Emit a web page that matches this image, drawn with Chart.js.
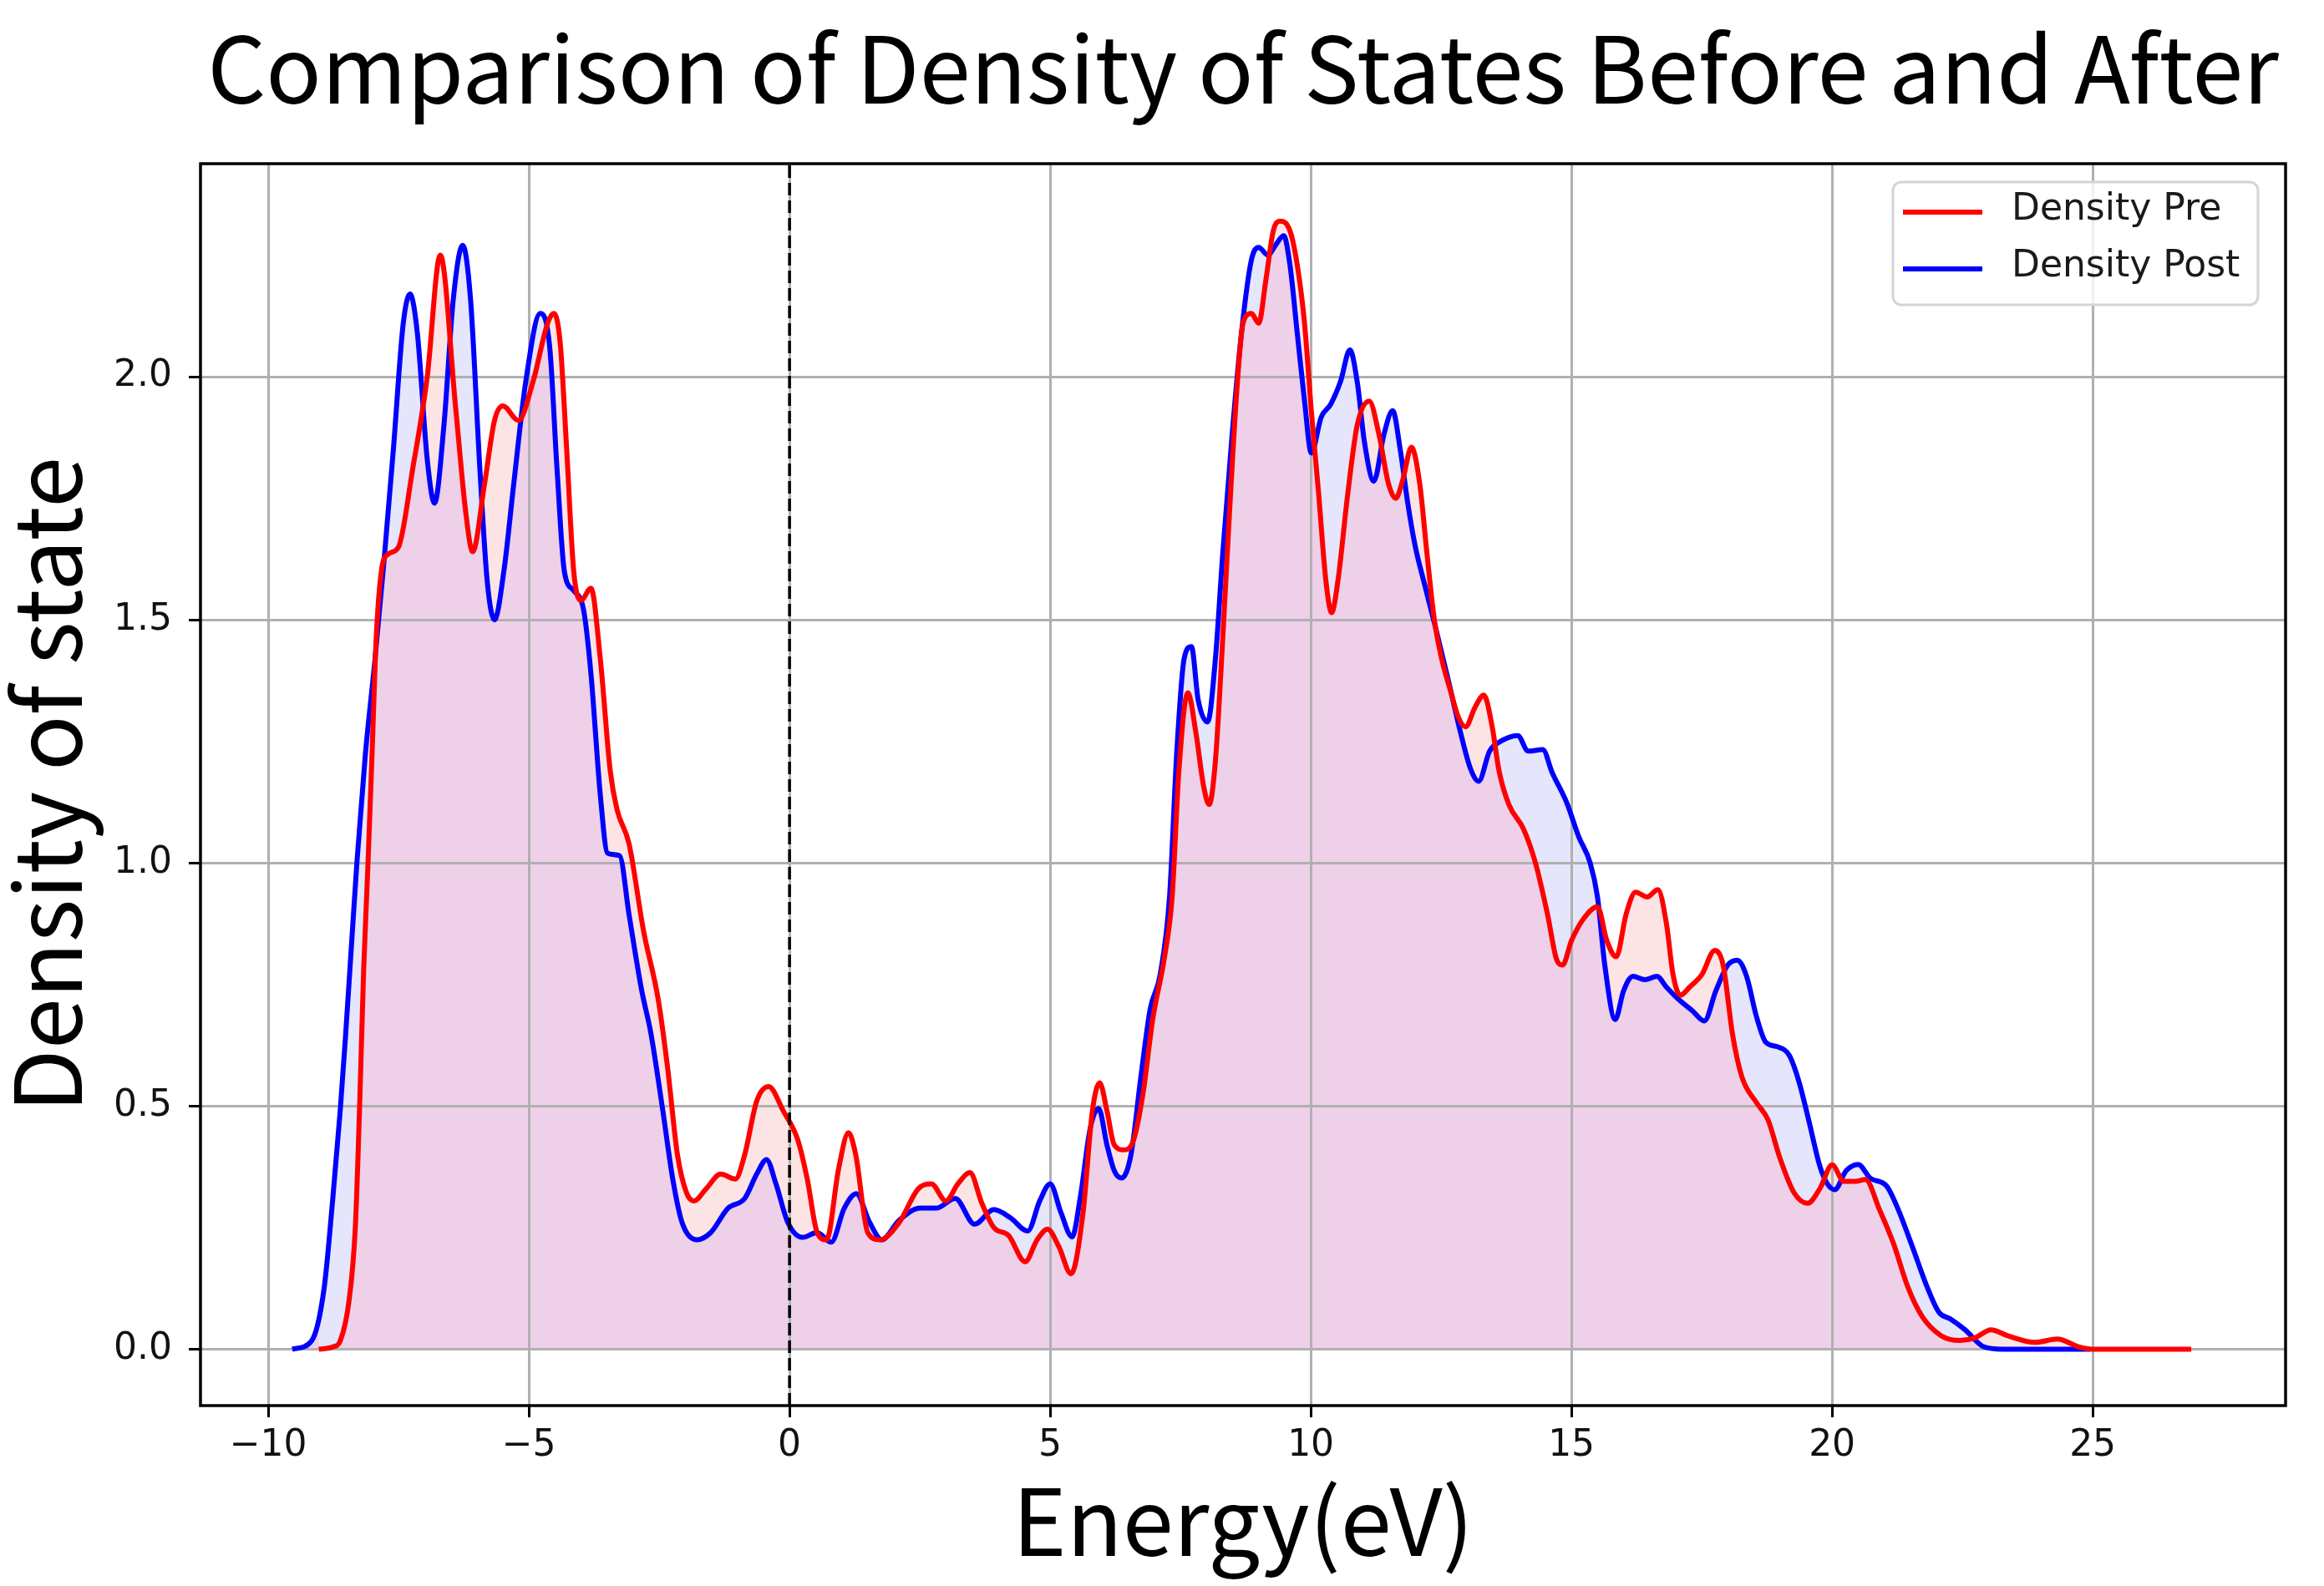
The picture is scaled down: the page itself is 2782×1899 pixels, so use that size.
<!DOCTYPE html>
<html><head><meta charset="utf-8">
<script src="https://cdn.jsdelivr.net/npm/chart.js@4.4.0/dist/chart.umd.min.js"></script>
<style>html,body{margin:0;padding:0;background:#fff;}#wrap{width:2782px;height:1899px;}</style>
</head><body>
<div id="wrap"><canvas id="c" width="2782" height="1899" style="width:2782px;height:1899px"></canvas></div>
<script>
const titleText = 'Comparison of Density of States Before and After';
const xAxisLabel = 'Energy(eV)';
const yAxisLabel = 'Density of state';
const seriesNames = ['Density Pre', 'Density Post'];
const xTickValues = [-10, -5, 0, 5, 10, 15, 20, 25];
const yTickValues = [0, 0.5, 1.0, 1.5, 2.0];
const fermiLevel = 0;

const preEnergy = [-9.03,-8.75,-8.62,-8.45,-8.33,-8.25,-8.17,-8.09,-8.01,-7.93,-7.83,-7.70,-7.50,-7.23,-6.95,-6.70,-6.40,-6.21,-6.08,-5.85,-5.66,-5.50,-5.20,-4.92,-4.64,-4.52,-4.40,-4.28,-4.14,-4.00,-3.81,-3.63,-3.44,-3.31,-3.08,-2.80,-2.52,-2.34,-2.15,-1.97,-1.83,-1.60,-1.32,-1.04,-0.86,-0.63,-0.40,-0.12,0.16,0.34,0.53,0.71,0.94,1.13,1.27,1.50,1.73,2.10,2.47,2.72,3.00,3.23,3.46,3.69,3.92,4.20,4.52,4.75,4.95,5.17,5.40,5.63,5.81,5.95,6.09,6.23,6.41,6.60,6.78,6.97,7.20,7.34,7.47,7.64,7.80,7.94,8.05,8.17,8.31,8.44,8.58,8.70,8.86,9.00,9.14,9.28,9.41,9.60,9.74,9.88,10.01,10.15,10.29,10.40,10.52,10.71,10.89,11.12,11.31,11.49,11.63,11.77,11.93,12.09,12.23,12.37,12.51,12.69,12.83,12.97,13.15,13.32,13.48,13.61,13.80,14.08,14.31,14.54,14.72,14.83,15.00,15.23,15.50,15.68,15.86,16.05,16.23,16.45,16.66,16.82,16.95,17.09,17.27,17.50,17.75,17.91,18.09,18.27,18.55,18.77,19.00,19.27,19.53,19.77,20.00,20.23,20.45,20.64,20.91,21.18,21.45,21.73,22.09,22.45,22.73,23.05,23.36,23.90,24.32,24.73,25.00,26.89];
const preDensity = [0,0.005,0.017,0.10,0.25,0.49,0.78,0.99,1.22,1.46,1.60,1.635,1.65,1.81,2.00,2.25,1.93,1.72,1.64,1.78,1.91,1.94,1.91,1.99,2.11,2.13,2.07,1.86,1.60,1.54,1.565,1.42,1.19,1.11,1.04,0.86,0.72,0.58,0.40,0.32,0.305,0.33,0.36,0.35,0.40,0.51,0.54,0.49,0.43,0.35,0.24,0.225,0.37,0.445,0.40,0.24,0.225,0.26,0.33,0.34,0.305,0.34,0.363,0.30,0.25,0.234,0.18,0.225,0.247,0.21,0.155,0.28,0.49,0.548,0.49,0.42,0.41,0.43,0.525,0.68,0.81,0.93,1.19,1.35,1.265,1.16,1.12,1.21,1.46,1.72,1.97,2.11,2.13,2.11,2.20,2.30,2.32,2.30,2.23,2.11,1.93,1.76,1.58,1.515,1.58,1.76,1.90,1.95,1.88,1.78,1.75,1.79,1.855,1.78,1.635,1.50,1.42,1.35,1.30,1.28,1.32,1.345,1.28,1.19,1.12,1.07,1.00,0.895,0.80,0.79,0.84,0.885,0.91,0.84,0.807,0.895,0.94,0.93,0.945,0.877,0.77,0.728,0.745,0.77,0.82,0.79,0.648,0.56,0.507,0.472,0.393,0.322,0.30,0.331,0.379,0.345,0.345,0.349,0.287,0.217,0.129,0.067,0.028,0.018,0.023,0.04,0.028,0.014,0.021,0.005,0,0];

const postEnergy = [-9.54,-9.17,-8.93,-8.77,-8.62,-8.52,-8.41,-8.30,-8.14,-7.96,-7.78,-7.60,-7.41,-7.28,-7.14,-6.95,-6.81,-6.63,-6.45,-6.27,-6.12,-5.94,-5.80,-5.66,-5.48,-5.29,-5.06,-4.78,-4.60,-4.46,-4.32,-4.14,-3.95,-3.81,-3.63,-3.49,-3.26,-3.08,-2.84,-2.66,-2.43,-2.24,-2.06,-1.78,-1.51,-1.18,-0.86,-0.63,-0.44,-0.26,-0.03,0.25,0.53,0.80,1.05,1.28,1.54,1.77,2.10,2.51,2.81,3.18,3.55,3.92,4.24,4.57,4.80,5.00,5.21,5.42,5.58,5.77,5.93,6.09,6.23,6.37,6.55,6.74,6.92,7.11,7.29,7.43,7.57,7.71,7.84,8.02,8.17,8.31,8.49,8.67,8.86,9.00,9.18,9.32,9.48,9.60,9.74,9.88,10.01,10.20,10.38,10.57,10.75,10.89,11.03,11.21,11.40,11.57,11.72,11.86,12.00,12.18,12.41,12.65,12.88,13.06,13.22,13.43,13.61,13.97,14.17,14.45,14.63,14.91,15.14,15.36,15.50,15.64,15.84,16.00,16.18,16.41,16.64,16.82,17.05,17.32,17.55,17.77,18.00,18.18,18.36,18.55,18.73,18.95,19.18,19.36,19.55,19.77,19.91,20.05,20.27,20.50,20.73,21.05,21.27,21.55,21.82,22.05,22.27,22.55,22.91,23.27,24.95];
const postDensity = [0,0.017,0.124,0.30,0.49,0.64,0.82,1.00,1.22,1.41,1.62,1.85,2.11,2.17,2.09,1.83,1.74,1.90,2.16,2.27,2.16,1.81,1.58,1.50,1.60,1.78,1.99,2.13,2.06,1.81,1.60,1.56,1.52,1.39,1.14,1.02,1.015,0.895,0.74,0.65,0.49,0.35,0.26,0.225,0.24,0.29,0.31,0.36,0.39,0.34,0.26,0.23,0.24,0.22,0.29,0.32,0.26,0.225,0.265,0.29,0.29,0.31,0.257,0.287,0.27,0.243,0.305,0.34,0.28,0.231,0.314,0.455,0.495,0.42,0.367,0.352,0.40,0.56,0.70,0.77,0.93,1.23,1.42,1.445,1.335,1.29,1.42,1.635,1.88,2.09,2.24,2.266,2.25,2.27,2.29,2.23,2.09,1.95,1.843,1.917,1.943,1.99,2.055,1.99,1.865,1.785,1.88,1.93,1.847,1.74,1.653,1.574,1.477,1.37,1.265,1.195,1.168,1.23,1.248,1.262,1.23,1.233,1.186,1.124,1.054,1.00,0.93,0.79,0.678,0.737,0.767,0.76,0.767,0.745,0.72,0.696,0.675,0.737,0.79,0.80,0.767,0.684,0.631,0.622,0.604,0.552,0.472,0.375,0.34,0.328,0.367,0.38,0.352,0.335,0.287,0.208,0.129,0.076,0.062,0.04,0.005,0,0];

const RED = '#ff0000', BLUE = '#0000ff';
const PINK = '#eed0e9', LIGHT_RED = '#fde4e4', LIGHT_BLUE = '#e5e5fb';
const CJK = '"Noto Sans CJK SC", "Noto Sans", sans-serif';
const DEJAVU = '"DejaVu Sans", sans-serif';

const fmtX = v => (v < 0 ? '\u2212' + Math.abs(v) : String(v));

const overlay = {
  id: 'overlay',
  afterDatasetsDraw(chart) {
    const {ctx, chartArea: a, scales: {x}} = chart;
    ctx.save();
    ctx.beginPath(); ctx.rect(a.left, a.top, a.right - a.left, a.bottom - a.top); ctx.clip();
    ctx.strokeStyle = '#000'; ctx.lineWidth = 3.5; ctx.setLineDash([15, 6]);
    const px = x.getPixelForValue(fermiLevel);
    ctx.beginPath(); ctx.moveTo(px, a.bottom); ctx.lineTo(px, a.top); ctx.stroke();
    ctx.restore();
    ctx.save();
    ctx.strokeStyle = '#000'; ctx.lineWidth = 3.5;
    ctx.strokeRect(a.left, a.top, a.right - a.left, a.bottom - a.top);
    ctx.restore();
    const bw = 437, bh = 147;
    const bx = a.right - 33 - bw, by = a.top + 22;
    ctx.save();
    ctx.fillStyle = 'rgba(255,255,255,0.8)';
    ctx.strokeStyle = '#d4d4d4'; ctx.lineWidth = 3;
    ctx.beginPath(); ctx.roundRect(bx, by, bw, bh, 10); ctx.fill(); ctx.stroke();
    chart.data.datasets.forEach((ds, i) => {
      const ly = by + 36 + i * 68;
      ctx.strokeStyle = ds.borderColor; ctx.lineWidth = 6;
      ctx.beginPath(); ctx.moveTo(bx + 12, ly); ctx.lineTo(bx + 107, ly); ctx.stroke();
      ctx.fillStyle = '#1a1a1a'; ctx.font = '44px ' + DEJAVU;
      ctx.textBaseline = 'middle'; ctx.textAlign = 'left';
      ctx.fillText(ds.label, bx + 142, ly - 2);
    });
    ctx.restore();
  }
};

new Chart(document.getElementById('c'), {
  type: 'line',
  data: {
    datasets: [
      {
        label: seriesNames[0],
        data: preEnergy.map((e, i) => ({x: e, y: preDensity[i]})),
        borderColor: RED, borderWidth: 6, pointRadius: 0,
        cubicInterpolationMode: 'monotone',
        backgroundColor: LIGHT_RED,
        fill: {target: 1, above: LIGHT_RED, below: LIGHT_BLUE}
      },
      {
        label: seriesNames[1],
        data: postEnergy.map((e, i) => ({x: e, y: postDensity[i]})),
        borderColor: BLUE, borderWidth: 6, pointRadius: 0,
        cubicInterpolationMode: 'monotone',
        backgroundColor: PINK,
        fill: {target: 'origin', above: PINK, below: PINK}
      }
    ]
  },
  options: {
    responsive: false, devicePixelRatio: 1, animation: false,
    layout: {padding: {left: 0, right: 46, top: 0, bottom: 0}},
    plugins: {
      legend: {display: false},
      tooltip: {enabled: false},
      filler: {drawTime: 'beforeDraw', propagate: false},
      title: {
        display: true, text: titleText, fullSize: false, color: '#000',
        font: {family: CJK, size: 110, weight: 'normal', lineHeight: 1.2},
        padding: {top: 16, bottom: 48}
      }
    },
    scales: {
      x: {
        type: 'linear', min: -11.3, max: 28.7,
        afterBuildTicks: s => { s.ticks = xTickValues.map(v => ({value: v})); },
        afterFit: s => { s.height = 216; },
        ticks: {font: {family: DEJAVU, size: 44}, color: '#111', padding: 8, maxRotation: 0, autoSkip: false, callback: v => fmtX(v)},
        grid: {color: '#b0b0b0', lineWidth: 3, tickColor: '#000', tickLength: 14, tickWidth: 3},
        border: {display: false},
        title: {display: true, text: xAxisLabel, color: '#000', font: {family: CJK, size: 110, lineHeight: 1.2}, padding: {top: 0, bottom: 12}}
      },
      y: {
        type: 'linear', min: -0.116, max: 2.438,
        afterBuildTicks: s => { s.ticks = yTickValues.map(v => ({value: v})); },
        afterFit: s => { s.width = 240; },
        ticks: {font: {family: DEJAVU, size: 44}, color: '#111', padding: 20, autoSkip: false, callback: v => Number(v).toFixed(1)},
        grid: {color: '#b0b0b0', lineWidth: 3, tickColor: '#000', tickLength: 14, tickWidth: 3},
        border: {display: false},
        title: {display: true, text: yAxisLabel, color: '#000', font: {family: CJK, size: 110, lineHeight: 0.87}, padding: {top: 8, bottom: 0}}
      }
    }
  },
  plugins: [overlay]
});
</script>
</body></html>
